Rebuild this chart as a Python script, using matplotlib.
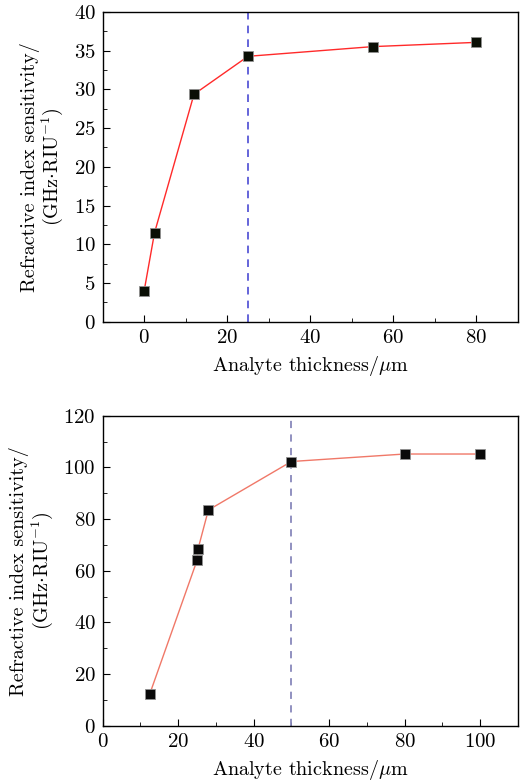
import matplotlib
matplotlib.use('Agg')
import matplotlib.pyplot as plt
from matplotlib.ticker import MultipleLocator

plt.rcParams['font.family'] = ['cmr10', 'DejaVu Serif']
plt.rcParams['mathtext.fontset'] = 'cm'
plt.rcParams['axes.formatter.use_mathtext'] = True
plt.rcParams['axes.unicode_minus'] = False

# top panel data
x_top = [0, 2.5, 12, 25, 55, 80]
y_top = [4.0, 11.5, 29.35, 34.25, 35.5, 36.05]
cut_top = 25

# bottom panel data
x_bot = [12.5, 25, 25.3, 28, 50, 80, 100]
y_bot = [12.4, 64.0, 68.6, 83.5, 102.3, 105.2, 105.2]
cut_bot = 50

xlabel = 'Analyte thickness/$\\mu$m'
ylabel = 'Refractive index sensitivity/\n(GHz$\\cdot$RIU$^{-1}$)'

fig = plt.figure(figsize=(5.21, 7.83), dpi=100)
ax1 = fig.add_axes([0.197, 0.589, 0.797, 0.396])
ax2 = fig.add_axes([0.197, 0.073, 0.797, 0.396])


def style(ax):
    ax.tick_params(which='both', direction='in', labelsize=15, top=False, right=False)
    ax.tick_params(which='major', length=5, pad=5)
    ax.tick_params(which='minor', length=3)
    ax.set_xlabel(xlabel, fontsize=14.5, labelpad=5)
    ax.set_ylabel(ylabel, fontsize=14.5, linespacing=1.0, labelpad=6)
    for s in ax.spines.values():
        s.set_linewidth(1.0)


ax1.axvline(cut_top, color='#3a3ad0', lw=1.1, ls=(0, (5, 4)))
ax1.plot(x_top, y_top, color='#ff2a2a', lw=1.0, marker='s', ms=6.5,
         mfc='#0a0f05', mec='#909090', mew=0.6)
ax1.set_xlim(-10, 90)
ax1.set_ylim(0, 40)
ax1.xaxis.set_major_locator(MultipleLocator(20))
ax1.xaxis.set_minor_locator(MultipleLocator(10))
ax1.yaxis.set_major_locator(MultipleLocator(5))
ax1.yaxis.set_minor_locator(MultipleLocator(2.5))
style(ax1)

ax2.axvline(cut_bot, color='#8888bb', lw=1.3, ls=(0, (4, 3.5)))
ax2.plot(x_bot, y_bot, color='#f07868', lw=1.0, marker='s', ms=6.5,
         mfc='#0a0a0a', mec='#909090', mew=0.6)
ax2.set_xlim(0, 110)
ax2.set_ylim(0, 120)
ax2.xaxis.set_major_locator(MultipleLocator(20))
ax2.xaxis.set_minor_locator(MultipleLocator(10))
ax2.yaxis.set_major_locator(MultipleLocator(20))
ax2.yaxis.set_minor_locator(MultipleLocator(10))
style(ax2)

fig.savefig('out.png', dpi=100)
